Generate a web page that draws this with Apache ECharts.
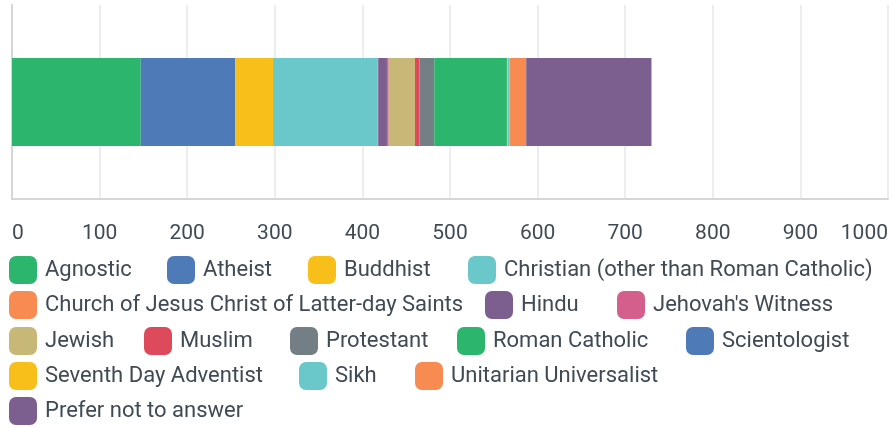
<!DOCTYPE html>
<html>
<head>
<meta charset="utf-8">
<script src="https://cdn.jsdelivr.net/npm/echarts@6/dist/echarts.min.js"></script>
<style>
html,body{margin:0;padding:0;background:#fff;}
#chart{width:894px;height:428px;}
</style>
</head>
<body>
<div id="chart"></div>
<script>
const categories = ['Agnostic','Atheist','Buddhist','Christian (other than Roman Catholic)','Church of Jesus Christ of Latter-day Saints','Hindu',"Jehovah's Witness",'Jewish','Muslim','Protestant','Roman Catholic','Scientologist','Seventh Day Adventist','Sikh','Unitarian Universalist','Prefer not to answer'];
const values = [147,108,43,119,1,10,2,30,5,17,83,0,1,2,19,143];
const colors = ['#2cb56c','#4e7ab8','#f8be19','#6ac8cb','#f78b52','#7c5f8f','#d45e8c','#c8b878','#dc4a5c','#747f85','#2cb56c','#4e7ab8','#f8be19','#6ac8cb','#f78b52','#7c5f8f'];
const xTicks = [0,100,200,300,400,500,600,700,800,900,1000];

// legend layout (pixel positions of each legend entry: [left, top])
const legendLayout = [[9,256],[167,256],[308,256],[468,256],
                      [9,291],[485,291],[617,291],
                      [9,327],[144,327],[290,327],[457,327],[686,327],
                      [9,362],[299,362],[415,362],
                      [9,397]];

const chart = echarts.init(document.getElementById('chart'));
const font = 'Roboto';
const textColor = '#3f4a54';

const series = categories.map((name,i)=>({
  name: name,
  type: 'bar',
  stack: 'total',
  barWidth: 88,
  data: [values[i]],
  itemStyle: {color: colors[i]},
  emphasis: {disabled: true},
  animation: false
}));

const legends = categories.map((name,i)=>({
  data: [{name: name, icon: 'roundRect'}],
  left: legendLayout[i][0],
  top: legendLayout[i][1],
  padding: 0,
  itemWidth: 28,
  itemHeight: 28,
  selectedMode: false,
  orient: 'horizontal',
  textStyle: {fontFamily: font, fontSize: 22, color: textColor, padding: [2,0,0,3]}
}));

chart.setOption({
  animation: false,
  color: colors,
  grid: {left: 12, right: 6, top: 5, bottom: 229, containLabel: false},
  legend: legends,
  xAxis: {
    type: 'value',
    min: xTicks[0],
    max: xTicks[xTicks.length-1],
    interval: 100,
    axisLine: {show: true, lineStyle: {color: '#d6d6d6', width: 2}},
    axisTick: {show: false},
    splitLine: {show: true, lineStyle: {color: '#eceeee', width: 2}},
    axisLabel: {
      fontFamily: font, fontSize: 21, color: textColor, margin: 24,
      alignMinLabel: 'left', alignMaxLabel: 'right',
      formatter: v => xTicks.includes(v) ? String(v) : ''
    }
  },
  yAxis: {
    type: 'category',
    data: [''],
    axisLine: {show: true, lineStyle: {color: '#d6d6d6', width: 2}},
    axisTick: {show: false},
    axisLabel: {show: false},
    splitLine: {show: false}
  },
  series: series
});
</script>
</body>
</html>
